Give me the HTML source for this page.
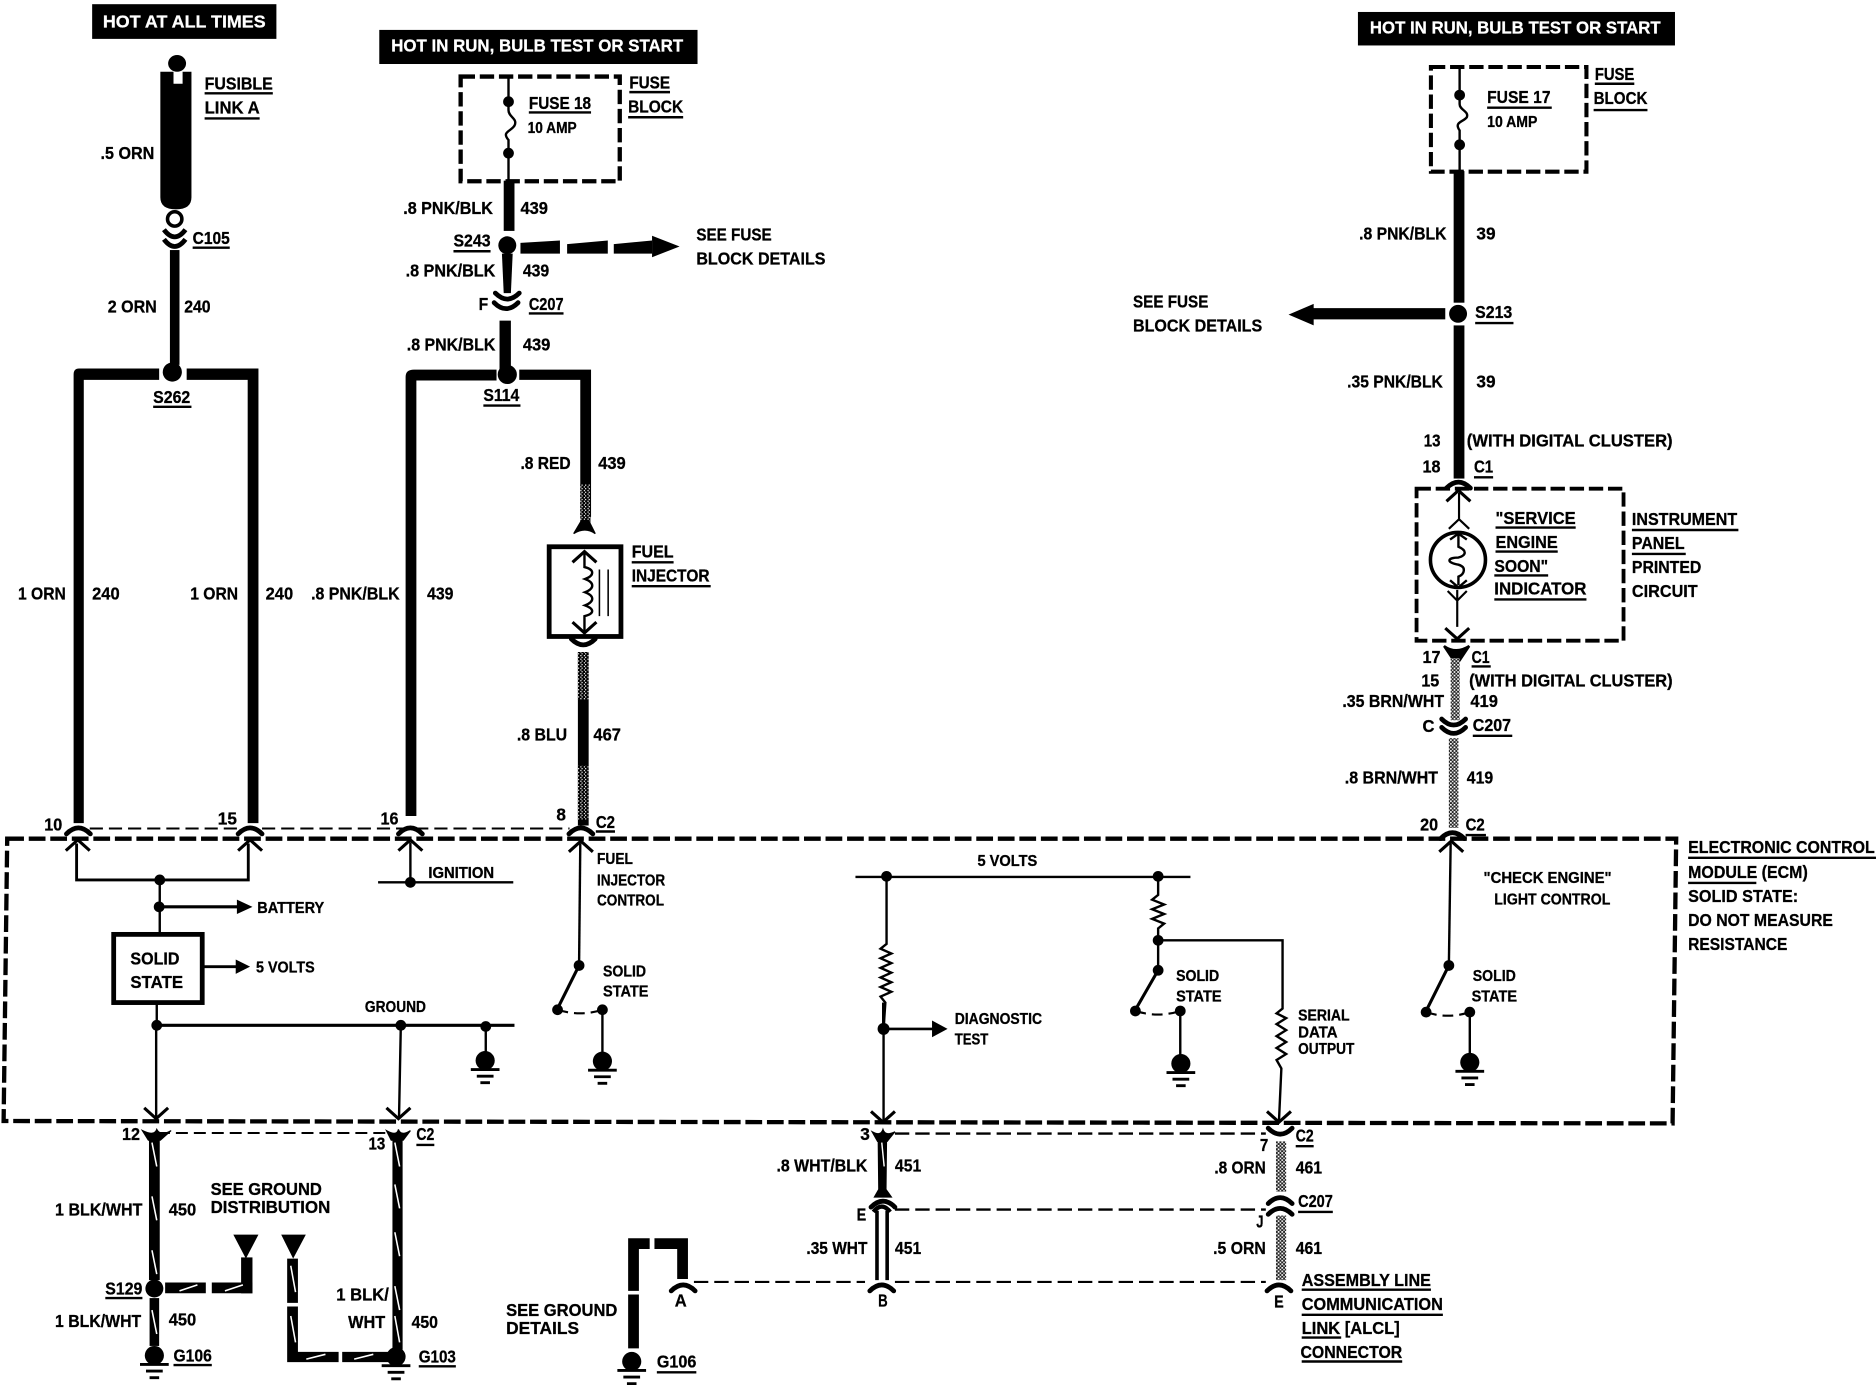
<!DOCTYPE html>
<html><head><meta charset="utf-8"><title>ECM wiring diagram</title>
<style>
html,body{margin:0;padding:0;background:#fff}
svg{display:block}
text{font-family:"Liberation Sans",sans-serif;font-weight:bold;font-size:15px;fill:#000;stroke:#000;stroke-width:.25px}
.s{font-size:13px}
.w{fill:#fff;stroke:#fff}
</style></head><body>
<svg xmlns="http://www.w3.org/2000/svg" width="1876" height="1392" viewBox="0 0 1568 1163.5">
<defs>
<pattern id="sp" width="3" height="3" patternUnits="userSpaceOnUse"><rect width="3" height="3" fill="#000"/><rect x="0" y="0" width="1" height="1" fill="#fff"/><rect x="2" y="1.5" width="1" height="1" fill="#fff"/></pattern>
<pattern id="sq" width="3" height="3" patternUnits="userSpaceOnUse"><rect width="3" height="3" fill="#222"/><rect x="0" y="0" width="1.4" height="1.4" fill="#fff"/><rect x="1.6" y="1.6" width="1.2" height="1.2" fill="#fff"/></pattern>
<path id="cd" d="M-10,5 Q0,-5 10,5" fill="none" stroke="#000" stroke-width="4" stroke-linecap="round"/>
<path id="cu" d="M-10,-5 Q0,5 10,-5" fill="none" stroke="#000" stroke-width="4" stroke-linecap="round"/>
<path id="au" d="M-10,9 L0,0 L10,9" fill="none" stroke="#000" stroke-width="2.6"/>
<path id="ad" d="M-10,-9 L0,0 L10,-9" fill="none" stroke="#000" stroke-width="2.6"/>
<g id="gnd"><circle cx="0" cy="0" r="8"/><path d="M-12,7.5H12M-7,13H7M-4,18.5H4" stroke="#000" stroke-width="2.4" fill="none"/></g>
</defs>
<rect width="1568" height="1163.5" fill="#fff"/>

<!-- header bars -->
<rect x="77" y="3.5" width="154" height="29"/>
<rect x="317" y="25" width="266" height="28.5"/>
<rect x="1135" y="10" width="265" height="28"/>

<!-- ECM dashed box -->
<path d="M6,701 L1401,701 L1398,939 L3,937 Z" fill="none" stroke="#000" stroke-width="3.6" stroke-dasharray="14,4"/>
<!-- thin dashed connector lines -->
<path d="M75,692.5H476" fill="none" stroke="#000" stroke-width="1.6" stroke-dasharray="11,5"/>
<path d="M132,947H323" fill="none" stroke="#000" stroke-width="1.6" stroke-dasharray="10,5"/>
<path d="M748,947.5H1058M748,1011H1058" fill="none" stroke="#000" stroke-width="2" stroke-dasharray="12,5"/>
<path d="M580,1071.5H723M748,1071.5H1058" fill="none" stroke="#000" stroke-width="1.8" stroke-dasharray="12,5"/>

<!-- fusible link column -->
<ellipse cx="148" cy="53" rx="7.5" ry="7"/>
<path d="M134,60H145V70H152.6V60H160V165Q160,175 147,175Q134,175 134,165Z"/>
<circle cx="146" cy="183" r="6" fill="none" stroke="#000" stroke-width="3"/>
<path d="M137,192Q146,204 155,192M137,200Q146,212 155,200" fill="none" stroke="#000" stroke-width="4"/>
<rect x="142" y="209" width="8" height="96"/>
<circle cx="144" cy="311" r="8"/>
<path d="M133,308H66Q61.5,308 61.5,313V688H70V317.5H133Z"/>
<path d="M156,308H216V688H207V317.5H156Z"/>
<use href="#cd" x="65.5" y="692"/><use href="#cd" x="209" y="692"/><use href="#cd" x="343" y="692"/><use href="#cd" x="485.5" y="692"/>

<!-- fuse 18 -->
<rect x="385" y="64" width="133" height="87.5" fill="none" stroke="#000" stroke-width="3.6" stroke-dasharray="12,4"/>
<path d="M425,64V92C425,98 433,99 430,105C427,110 419,110 425,117V151" fill="none" stroke="#000" stroke-width="2"/>
<circle cx="425" cy="85" r="4.5"/><circle cx="425" cy="128" r="4.5"/>
<rect x="421" y="151" width="9" height="42"/>
<circle cx="424" cy="205" r="7.5"/>
<path d="M419.5,212H428.5L427,245H421Z"/>
<path d="M435,203L468,201V212H435ZM474,204L508,201V212H474ZM513,204L545,201V212H513Z"/>
<path d="M545,197L568,206L545,215Z"/>
<use href="#cu" x="424" y="250"/><use href="#cu" x="423" y="258"/>
<rect x="417.5" y="268" width="9.5" height="42"/>
<circle cx="424" cy="313" r="8"/>
<path d="M415,309H346Q339,309 339,315V682H348V318H415Z"/>
<path d="M434,309H494V432H485V317.5H434Z"/>
<rect x="485" y="405" width="8.5" height="35" fill="url(#sp)"/>
<path d="M479.5,446L486,435H492L497.5,446Q489,440 479.5,446Z" stroke="#000" stroke-width="1"/>

<!-- fuel injector -->
<rect x="459" y="457" width="60" height="75" fill="none" stroke="#000" stroke-width="4"/>
<use href="#au" x="488.5" y="461"/><use href="#ad" x="488.5" y="529"/>
<path d="M488.5,461V474C497,476 497,481 489,484C497,487 497,492 489,495C497,498 497,503 489,506C497,509 497,513 488.5,515V529" fill="none" stroke="#000" stroke-width="2"/>
<path d="M501,476V515M508.3,476V515" stroke="#000" stroke-width="1.3" fill="none"/>
<use href="#cu" x="487.5" y="539"/>
<rect x="483" y="545" width="9" height="145" fill="#000"/>
<rect x="483" y="545" width="9" height="40" fill="url(#sp)"/>
<rect x="483" y="640" width="9" height="45" fill="url(#sp)"/>

<!-- S129 / grounds bottom left -->
<use href="#au" x="65" y="702"/><use href="#au" x="209" y="702"/><use href="#au" x="343" y="702"/><use href="#au" x="485.5" y="703"/>
<path d="M64,705V735.5H207.5V705" fill="none" stroke="#000" stroke-width="2.4"/>
<path d="M133.5,735.5V780" fill="none" stroke="#000" stroke-width="2"/>
<circle cx="133.5" cy="735.5" r="4.5"/><circle cx="133" cy="758" r="4.5"/>
<path d="M133,758H200" stroke="#000" stroke-width="2.6"/>
<path d="M198,752L211,758L198,764Z"/>
<rect x="95" y="781" width="74" height="57" fill="none" stroke="#000" stroke-width="4"/>
<path d="M169,808H198" stroke="#000" stroke-width="2.4"/>
<path d="M197,802L209,808L197,814Z"/>
<path d="M131,838V858" stroke="#000" stroke-width="2"/>
<path d="M131,857H430" stroke="#000" stroke-width="2.6"/>
<circle cx="131" cy="857" r="4.5"/><circle cx="335" cy="857" r="4.5"/><circle cx="406" cy="858" r="4.5"/>
<path d="M406,858V880" stroke="#000" stroke-width="2"/>
<use href="#gnd" x="405.5" y="886.5"/>
<path d="M130.5,857V934M335,857L333.5,934" fill="none" stroke="#000" stroke-width="2"/>
<use href="#ad" x="130.5" y="935"/><use href="#ad" x="333" y="935"/>
<path d="M316,737.5H429" stroke="#000" stroke-width="2"/>
<circle cx="343" cy="737.5" r="4.5"/>
<path d="M343,737.5V704" stroke="#000" stroke-width="2"/>

<!-- fuel injector control switch -->
<path d="M485,705L484,806" stroke="#000" stroke-width="2"/>
<circle cx="484" cy="807" r="4.5"/>
<path d="M484,807L466,843" stroke="#000" stroke-width="2.6"/>
<circle cx="466" cy="844" r="4.5"/><circle cx="503.5" cy="844" r="4.5"/>
<path d="M466,844Q485,850 503.5,844" fill="none" stroke="#000" stroke-width="1.8" stroke-dasharray="9,5"/>
<path d="M503.5,844V880" stroke="#000" stroke-width="2"/>
<use href="#gnd" x="503.5" y="887"/>

<!-- lower left harness -->
<path d="M119,945Q129,950 131,944Q134,950 143,945L134,953H124Z" stroke="#000"/>
<rect x="124.5" y="948" width="9" height="122"/>
<circle cx="129" cy="1077" r="7.5"/>
<rect x="125" y="1085" width="8" height="40"/>
<use href="#gnd" x="129" y="1133"/>
<path d="M138,1072H172V1081H138ZM177,1072H211V1081H177Z"/>
<rect x="201.5" y="1051" width="9.5" height="30"/>
<path d="M195,1032H216L205.5,1052Z"/>
<path d="M235,1032H255.6L245,1052Z"/>
<path d="M240,1052H249V1089H240ZM240,1092H249V1130H283V1138.5H240ZM286,1130H325V1138.5H286Z"/>
<path d="M323,945Q332,950 333,944Q335,950 343,945L337,953H327Z" stroke="#000"/>
<rect x="328" y="948" width="8.5" height="180"/>
<use href="#gnd" x="331" y="1134"/>
<path d="M127,955L131,975M127,1000L131,1020M127,1045L131,1065M127,1095L131,1115M330,955L334,975M330,990L334,1010M330,1030L334,1050M330,1075L334,1095M330,1100L334,1122M243,1058L247,1080M243,1100L247,1122M150,1079L165,1074M188,1079L203,1074M256,1136L272,1132M296,1136L312,1132" stroke="#fff" stroke-width="1.3" fill="none"/>

<!-- G106 details -->
<path d="M525,1035H543V1044H534V1079H525ZM525,1082H534V1127H525ZM547,1035H575V1069H566V1044H547Z"/>
<use href="#cd" x="571" y="1074"/>
<use href="#gnd" x="528" y="1138"/>

<!-- middle 5 volts section -->
<path d="M715,733H995" stroke="#000" stroke-width="2"/>
<circle cx="741" cy="732.5" r="4.5"/><circle cx="968" cy="732.5" r="4.5"/>
<path d="M741,733V789L736,793L745,797L736,801L745,805L736,809L745,813L736,817L745,821L736,825L745,829L736,833L740,838L738.5,860V937" fill="none" stroke="#000" stroke-width="2"/>
<path d="M738.5,860V838" stroke="#000" stroke-width="2.6"/>
<circle cx="738.5" cy="860" r="5"/>
<path d="M738.5,860H782" stroke="#000" stroke-width="2.2"/>
<path d="M779,853L792,860L779,867Z"/>
<use href="#ad" x="738" y="938"/>
<path d="M968,733V748L963,752L973,756L963,760L973,764L963,768L973,772L968,776V811" fill="none" stroke="#000" stroke-width="2"/>
<circle cx="968" cy="786" r="4.5"/><circle cx="968" cy="811" r="4.5"/>
<path d="M968,786H1072V843L1067,847L1075,851L1067,856L1075,861L1067,866L1075,871L1067,876L1075,881L1067,886L1071,893L1069,937" fill="none" stroke="#000" stroke-width="2"/>
<use href="#ad" x="1069" y="938"/>
<path d="M968,811L949,844" stroke="#000" stroke-width="2.6"/>
<circle cx="949" cy="845" r="4.5"/><circle cx="986.5" cy="845" r="4.5"/>
<path d="M949,845Q968,851 986.5,845" fill="none" stroke="#000" stroke-width="1.8" stroke-dasharray="9,5"/>
<path d="M986.5,845V882" stroke="#000" stroke-width="2"/>
<use href="#gnd" x="987" y="889"/>

<!-- 451 and 461 wires -->
<path d="M729,946Q736,950 738,944Q740,950 748,946L741.5,954H733.5Z" stroke="#000"/>
<path d="M733.5,948H741.5L741,994L746,1001H730L734,994Z"/>
<use href="#cd" x="738" y="1004"/>
<path d="M730,1013Q737,1004 744,1013" fill="none" stroke="#000" stroke-width="3.6"/>
<path d="M733,1012V1070M741.5,1012V1070" fill="none" stroke="#000" stroke-width="3"/>
<path d="M737,955L739,975" stroke="#fff" stroke-width="1.2"/>
<use href="#cd" x="737" y="1074"/>
<use href="#cu" x="1070" y="948"/>
<rect x="1066.5" y="954" width="8.5" height="42" fill="url(#sq)"/>
<use href="#cd" x="1070" y="1001"/><use href="#cd" x="1070" y="1010"/>
<rect x="1066.5" y="1016" width="8.5" height="54" fill="url(#sq)"/>
<use href="#cd" x="1069" y="1074"/>

<!-- right column fuse 17 -->
<rect x="1196" y="56" width="130" height="87.5" fill="none" stroke="#000" stroke-width="3.4" stroke-dasharray="12,4"/>
<path d="M1220,56V87C1220,92 1228,93 1226,98C1223,102 1215,102 1220,109V143" fill="none" stroke="#000" stroke-width="2"/>
<circle cx="1220" cy="79.5" r="4.5"/><circle cx="1220" cy="121" r="4.5"/>
<rect x="1215" y="143" width="9" height="110"/>
<circle cx="1218.7" cy="262.3" r="7.5"/>
<path d="M1208,257.5V267H1098V272L1077,263L1098,254V257.5Z"/>
<rect x="1215" y="272" width="9" height="128"/>
<use href="#cd" x="1219" y="403"/>
<rect x="1184" y="408.5" width="173" height="127" fill="none" stroke="#000" stroke-width="3.2" stroke-dasharray="12,4"/>
<use href="#au" x="1219" y="410"/>
<path d="M1219.5,412V435M1211,442L1219.5,434L1228,442M1218,493L1218,524M1210,494L1218,502L1226,494" fill="none" stroke="#000" stroke-width="1.8"/>
<circle cx="1218.6" cy="468" r="23" fill="none" stroke="#000" stroke-width="3"/>
<use href="#ad" x="1218" y="534"/>
<path d="M1219,447V457C1226,460 1226,464 1219,466C1210,466 1208,470 1219,472C1226,474 1224,480 1219,482V489M1212,451L1219,446L1226,451M1212,485L1219,491L1226,485" fill="none" stroke="#000" stroke-width="2"/>
<path d="M1207,540Q1217,547 1228,540L1220,552H1215Z" stroke="#000" stroke-width="2"/>
<rect x="1212.5" y="550" width="7.5" height="52" fill="url(#sq)"/>
<use href="#cu" x="1215" y="606"/><use href="#cu" x="1215" y="613"/>
<rect x="1211" y="617" width="8" height="75" fill="url(#sq)"/>
<use href="#cd" x="1214" y="696"/>
<use href="#au" x="1213" y="703"/>
<path d="M1212.5,705L1211,807" stroke="#000" stroke-width="2"/>
<circle cx="1211" cy="807" r="4.5"/>
<path d="M1211,807L1192,845" stroke="#000" stroke-width="2.6"/>
<circle cx="1192" cy="846" r="4.5"/><circle cx="1228.5" cy="846" r="4.5"/>
<path d="M1192,846Q1210,852 1228.5,846" fill="none" stroke="#000" stroke-width="1.8" stroke-dasharray="9,5"/>
<path d="M1228.5,846V882" stroke="#000" stroke-width="2"/>
<use href="#gnd" x="1228.5" y="888"/>

<!-- underlines -->
<path d="M171,78H228M171,99H217M161,207H192M128,340H160M442,94H494M526,77H560M525,98H571M379,210H410M442,262H471M404,339H435M528,470H563M528,490H594M498,695H514M1243,90H1297M1333,70H1366M1332,92H1377M1233,270H1265M1232,399H1248M1250,441H1317M1250,461H1302M1249,481H1294M1249,501H1326M1364,443H1453M1364,463H1409M1230,557H1246M1231,615H1264M1225,698H1242M1411,717H1568M1411,738H1468M348,957H363M1083,958H1098M1085,1013H1114M88,1085H119M145,1141H177M350,1142H381M549,1147H582M1088,1078H1196M1088,1099H1206M1088,1118H1121M1088,1138H1172" fill="none" stroke="#000" stroke-width="2"/>

<!-- text -->
<text class="w" x="86" y="23" textLength="136" lengthAdjust="spacingAndGlyphs">HOT AT ALL TIMES</text>
<text class="w" x="327" y="43" textLength="244" lengthAdjust="spacingAndGlyphs">HOT IN RUN, BULB TEST OR START</text>
<text class="w" x="1145" y="28" textLength="243" lengthAdjust="spacingAndGlyphs">HOT IN RUN, BULB TEST OR START</text>
<text x="84" y="133" textLength="45" lengthAdjust="spacingAndGlyphs">.5 ORN</text>
<text x="171" y="75" textLength="57" lengthAdjust="spacingAndGlyphs">FUSIBLE</text>
<text x="171" y="95" textLength="46" lengthAdjust="spacingAndGlyphs">LINK A</text>
<text x="161" y="204" textLength="31" lengthAdjust="spacingAndGlyphs">C105</text>
<text x="90" y="261" textLength="41" lengthAdjust="spacingAndGlyphs">2 ORN</text>
<text x="154" y="261" textLength="22" lengthAdjust="spacingAndGlyphs">240</text>
<text x="128" y="337" textLength="31" lengthAdjust="spacingAndGlyphs">S262</text>
<text x="15" y="501" textLength="40" lengthAdjust="spacingAndGlyphs">1 ORN</text>
<text x="77" y="501" textLength="23" lengthAdjust="spacingAndGlyphs">240</text>
<text x="159" y="501" textLength="40" lengthAdjust="spacingAndGlyphs">1 ORN</text>
<text x="222" y="501" textLength="23" lengthAdjust="spacingAndGlyphs">240</text>
<text x="260" y="501" textLength="74" lengthAdjust="spacingAndGlyphs">.8 PNK/BLK</text>
<text x="357" y="501" textLength="22" lengthAdjust="spacingAndGlyphs">439</text>
<text x="435" y="392" textLength="42" lengthAdjust="spacingAndGlyphs">.8 RED</text>
<text x="500" y="392" textLength="23" lengthAdjust="spacingAndGlyphs">439</text>
<text x="528" y="466" textLength="35" lengthAdjust="spacingAndGlyphs">FUEL</text>
<text x="528" y="486" textLength="65" lengthAdjust="spacingAndGlyphs">INJECTOR</text>
<text x="432" y="619" textLength="42" lengthAdjust="spacingAndGlyphs">.8 BLU</text>
<text x="496" y="619" textLength="23" lengthAdjust="spacingAndGlyphs">467</text>
<text x="37" y="694" textLength="15" lengthAdjust="spacingAndGlyphs">10</text>
<text x="182" y="689" textLength="16" lengthAdjust="spacingAndGlyphs">15</text>
<text x="318" y="689" textLength="15" lengthAdjust="spacingAndGlyphs">16</text>
<text x="465" y="686" textLength="8" lengthAdjust="spacingAndGlyphs">8</text>
<text x="498" y="692" textLength="16" lengthAdjust="spacingAndGlyphs">C2</text>
<text x="442" y="91" textLength="52" lengthAdjust="spacingAndGlyphs">FUSE 18</text>
<text class="s" x="441" y="111" textLength="41" lengthAdjust="spacingAndGlyphs">10 AMP</text>
<text x="526" y="74" textLength="34" lengthAdjust="spacingAndGlyphs">FUSE</text>
<text x="525" y="94" textLength="46" lengthAdjust="spacingAndGlyphs">BLOCK</text>
<text x="337" y="179" textLength="75" lengthAdjust="spacingAndGlyphs">.8 PNK/BLK</text>
<text x="435" y="179" textLength="23" lengthAdjust="spacingAndGlyphs">439</text>
<text x="379" y="206" textLength="31" lengthAdjust="spacingAndGlyphs">S243</text>
<text x="582" y="201" textLength="63" lengthAdjust="spacingAndGlyphs">SEE FUSE</text>
<text x="582" y="221" textLength="108" lengthAdjust="spacingAndGlyphs">BLOCK DETAILS</text>
<text x="339" y="231" textLength="75" lengthAdjust="spacingAndGlyphs">.8 PNK/BLK</text>
<text x="437" y="231" textLength="22" lengthAdjust="spacingAndGlyphs">439</text>
<text x="400" y="259" textLength="8" lengthAdjust="spacingAndGlyphs">F</text>
<text x="442" y="259" textLength="29" lengthAdjust="spacingAndGlyphs">C207</text>
<text x="340" y="293" textLength="74" lengthAdjust="spacingAndGlyphs">.8 PNK/BLK</text>
<text x="437" y="293" textLength="23" lengthAdjust="spacingAndGlyphs">439</text>
<text x="404" y="335" textLength="30" lengthAdjust="spacingAndGlyphs">S114</text>

<text x="1243" y="86" textLength="53" lengthAdjust="spacingAndGlyphs">FUSE 17</text>
<text class="s" x="1243" y="106" textLength="42" lengthAdjust="spacingAndGlyphs">10 AMP</text>
<text x="1333" y="67" textLength="33" lengthAdjust="spacingAndGlyphs">FUSE</text>
<text x="1332" y="87" textLength="45" lengthAdjust="spacingAndGlyphs">BLOCK</text>
<text x="1136" y="200" textLength="73" lengthAdjust="spacingAndGlyphs">.8 PNK/BLK</text>
<text x="1234" y="200" textLength="16" lengthAdjust="spacingAndGlyphs">39</text>
<text x="947" y="257" textLength="63" lengthAdjust="spacingAndGlyphs">SEE FUSE</text>
<text x="947" y="277" textLength="108" lengthAdjust="spacingAndGlyphs">BLOCK DETAILS</text>
<text x="1233" y="266" textLength="31" lengthAdjust="spacingAndGlyphs">S213</text>
<text x="1126" y="324" textLength="80" lengthAdjust="spacingAndGlyphs">.35 PNK/BLK</text>
<text x="1234" y="324" textLength="16" lengthAdjust="spacingAndGlyphs">39</text>
<text x="1190" y="373" textLength="14" lengthAdjust="spacingAndGlyphs">13</text>
<text x="1226" y="373" textLength="172" lengthAdjust="spacingAndGlyphs">(WITH DIGITAL CLUSTER)</text>
<text x="1189" y="395" textLength="15" lengthAdjust="spacingAndGlyphs">18</text>
<text x="1232" y="395" textLength="16" lengthAdjust="spacingAndGlyphs">C1</text>
<text x="1250" y="438" textLength="67" lengthAdjust="spacingAndGlyphs">"SERVICE</text>
<text x="1250" y="458" textLength="52" lengthAdjust="spacingAndGlyphs">ENGINE</text>
<text x="1249" y="478" textLength="45" lengthAdjust="spacingAndGlyphs">SOON"</text>
<text x="1249" y="497" textLength="77" lengthAdjust="spacingAndGlyphs">INDICATOR</text>
<text x="1364" y="439" textLength="88" lengthAdjust="spacingAndGlyphs">INSTRUMENT</text>
<text x="1364" y="459" textLength="44" lengthAdjust="spacingAndGlyphs">PANEL</text>
<text x="1364" y="479" textLength="58" lengthAdjust="spacingAndGlyphs">PRINTED</text>
<text x="1364" y="499" textLength="55" lengthAdjust="spacingAndGlyphs">CIRCUIT</text>
<text x="1189" y="554" textLength="15" lengthAdjust="spacingAndGlyphs">17</text>
<text x="1230" y="554" textLength="15" lengthAdjust="spacingAndGlyphs">C1</text>
<text x="1188" y="574" textLength="15" lengthAdjust="spacingAndGlyphs">15</text>
<text x="1228" y="574" textLength="170" lengthAdjust="spacingAndGlyphs">(WITH DIGITAL CLUSTER)</text>
<text x="1122" y="591" textLength="85" lengthAdjust="spacingAndGlyphs">.35 BRN/WHT</text>
<text x="1229" y="591" textLength="23" lengthAdjust="spacingAndGlyphs">419</text>
<text x="1189" y="612" textLength="10" lengthAdjust="spacingAndGlyphs">C</text>
<text x="1231" y="611" textLength="32" lengthAdjust="spacingAndGlyphs">C207</text>
<text x="1124" y="655" textLength="78" lengthAdjust="spacingAndGlyphs">.8 BRN/WHT</text>
<text x="1226" y="655" textLength="22" lengthAdjust="spacingAndGlyphs">419</text>
<text x="1187" y="694" textLength="15" lengthAdjust="spacingAndGlyphs">20</text>
<text x="1225" y="694" textLength="16" lengthAdjust="spacingAndGlyphs">C2</text>
<text x="1411" y="713" textLength="156" lengthAdjust="spacingAndGlyphs">ELECTRONIC CONTROL</text>
<text x="1411" y="734" textLength="100" lengthAdjust="spacingAndGlyphs">MODULE (ECM)</text>
<text x="1411" y="754" textLength="92" lengthAdjust="spacingAndGlyphs">SOLID STATE:</text>
<text x="1411" y="774" textLength="121" lengthAdjust="spacingAndGlyphs">DO NOT MEASURE</text>
<text x="1411" y="794" textLength="83" lengthAdjust="spacingAndGlyphs">RESISTANCE</text>

<text class="s" x="215" y="763" textLength="56" lengthAdjust="spacingAndGlyphs">BATTERY</text>
<text x="109" y="806" textLength="41" lengthAdjust="spacingAndGlyphs">SOLID</text>
<text x="109" y="826" textLength="44" lengthAdjust="spacingAndGlyphs">STATE</text>
<text class="s" x="214" y="813" textLength="49" lengthAdjust="spacingAndGlyphs">5 VOLTS</text>
<text class="s" x="305" y="846" textLength="51" lengthAdjust="spacingAndGlyphs">GROUND</text>
<text class="s" x="358" y="734" textLength="55" lengthAdjust="spacingAndGlyphs">IGNITION</text>
<text class="s" x="499" y="722" textLength="30" lengthAdjust="spacingAndGlyphs">FUEL</text>
<text class="s" x="499" y="740" textLength="57" lengthAdjust="spacingAndGlyphs">INJECTOR</text>
<text class="s" x="499" y="757" textLength="56" lengthAdjust="spacingAndGlyphs">CONTROL</text>
<text class="s" x="504" y="816" textLength="36" lengthAdjust="spacingAndGlyphs">SOLID</text>
<text class="s" x="504" y="833" textLength="38" lengthAdjust="spacingAndGlyphs">STATE</text>
<text class="s" x="817" y="724" textLength="50" lengthAdjust="spacingAndGlyphs">5 VOLTS</text>
<text class="s" x="798" y="856" textLength="73" lengthAdjust="spacingAndGlyphs">DIAGNOSTIC</text>
<text class="s" x="798" y="873" textLength="28" lengthAdjust="spacingAndGlyphs">TEST</text>
<text class="s" x="983" y="820" textLength="36" lengthAdjust="spacingAndGlyphs">SOLID</text>
<text class="s" x="983" y="837" textLength="38" lengthAdjust="spacingAndGlyphs">STATE</text>
<text class="s" x="1085" y="853" textLength="43" lengthAdjust="spacingAndGlyphs">SERIAL</text>
<text class="s" x="1085" y="867" textLength="33" lengthAdjust="spacingAndGlyphs">DATA</text>
<text class="s" x="1085" y="881" textLength="47" lengthAdjust="spacingAndGlyphs">OUTPUT</text>
<text class="s" x="1240" y="738" textLength="107" lengthAdjust="spacingAndGlyphs">"CHECK ENGINE"</text>
<text class="s" x="1249" y="756" textLength="97" lengthAdjust="spacingAndGlyphs">LIGHT CONTROL</text>
<text class="s" x="1231" y="820" textLength="36" lengthAdjust="spacingAndGlyphs">SOLID</text>
<text class="s" x="1230" y="837" textLength="38" lengthAdjust="spacingAndGlyphs">STATE</text>

<text x="102" y="953" textLength="15" lengthAdjust="spacingAndGlyphs">12</text>
<text x="308" y="961" textLength="14" lengthAdjust="spacingAndGlyphs">13</text>
<text x="348" y="953" textLength="15" lengthAdjust="spacingAndGlyphs">C2</text>
<text x="46" y="1016" textLength="73" lengthAdjust="spacingAndGlyphs">1 BLK/WHT</text>
<text x="141" y="1016" textLength="23" lengthAdjust="spacingAndGlyphs">450</text>
<text x="176" y="999" textLength="93" lengthAdjust="spacingAndGlyphs">SEE GROUND</text>
<text x="176" y="1014" textLength="100" lengthAdjust="spacingAndGlyphs">DISTRIBUTION</text>
<text x="88" y="1082" textLength="31" lengthAdjust="spacingAndGlyphs">S129</text>
<text x="46" y="1109" textLength="72" lengthAdjust="spacingAndGlyphs">1 BLK/WHT</text>
<text x="141" y="1108" textLength="23" lengthAdjust="spacingAndGlyphs">450</text>
<text x="145" y="1138" textLength="32" lengthAdjust="spacingAndGlyphs">G106</text>
<text x="281" y="1087" textLength="44" lengthAdjust="spacingAndGlyphs">1 BLK/</text>
<text x="291" y="1110" textLength="31" lengthAdjust="spacingAndGlyphs">WHT</text>
<text x="344" y="1110" textLength="22" lengthAdjust="spacingAndGlyphs">450</text>
<text x="350" y="1139" textLength="31" lengthAdjust="spacingAndGlyphs">G103</text>
<text x="423" y="1100" textLength="93" lengthAdjust="spacingAndGlyphs">SEE GROUND</text>
<text x="423" y="1115" textLength="61" lengthAdjust="spacingAndGlyphs">DETAILS</text>
<text x="549" y="1143" textLength="33" lengthAdjust="spacingAndGlyphs">G106</text>
<text x="564" y="1092" textLength="10" lengthAdjust="spacingAndGlyphs">A</text>
<text x="719" y="953" textLength="8" lengthAdjust="spacingAndGlyphs">3</text>
<text x="649" y="979" textLength="76" lengthAdjust="spacingAndGlyphs">.8 WHT/BLK</text>
<text x="748" y="979" textLength="22" lengthAdjust="spacingAndGlyphs">451</text>
<text x="716" y="1020" textLength="8" lengthAdjust="spacingAndGlyphs">E</text>
<text x="674" y="1048" textLength="51" lengthAdjust="spacingAndGlyphs">.35 WHT</text>
<text x="748" y="1048" textLength="22" lengthAdjust="spacingAndGlyphs">451</text>
<text x="734" y="1092" textLength="8" lengthAdjust="spacingAndGlyphs">B</text>
<text x="1053" y="962" textLength="7" lengthAdjust="spacingAndGlyphs">7</text>
<text x="1015" y="981" textLength="43" lengthAdjust="spacingAndGlyphs">.8 ORN</text>
<text x="1083" y="981" textLength="22" lengthAdjust="spacingAndGlyphs">461</text>
<text x="1083" y="954" textLength="15" lengthAdjust="spacingAndGlyphs">C2</text>
<text x="1085" y="1009" textLength="29" lengthAdjust="spacingAndGlyphs">C207</text>
<text x="1050" y="1026" textLength="6" lengthAdjust="spacingAndGlyphs">J</text>
<text x="1014" y="1048" textLength="44" lengthAdjust="spacingAndGlyphs">.5 ORN</text>
<text x="1083" y="1048" textLength="22" lengthAdjust="spacingAndGlyphs">461</text>
<text x="1065" y="1093" textLength="8" lengthAdjust="spacingAndGlyphs">E</text>
<text x="1088" y="1075" textLength="108" lengthAdjust="spacingAndGlyphs">ASSEMBLY LINE</text>
<text x="1088" y="1095" textLength="118" lengthAdjust="spacingAndGlyphs">COMMUNICATION</text>
<text x="1088" y="1115" textLength="82" lengthAdjust="spacingAndGlyphs">LINK [ALCL]</text>
<text x="1087" y="1135" textLength="85" lengthAdjust="spacingAndGlyphs">CONNECTOR</text>
</svg>
</body></html>
